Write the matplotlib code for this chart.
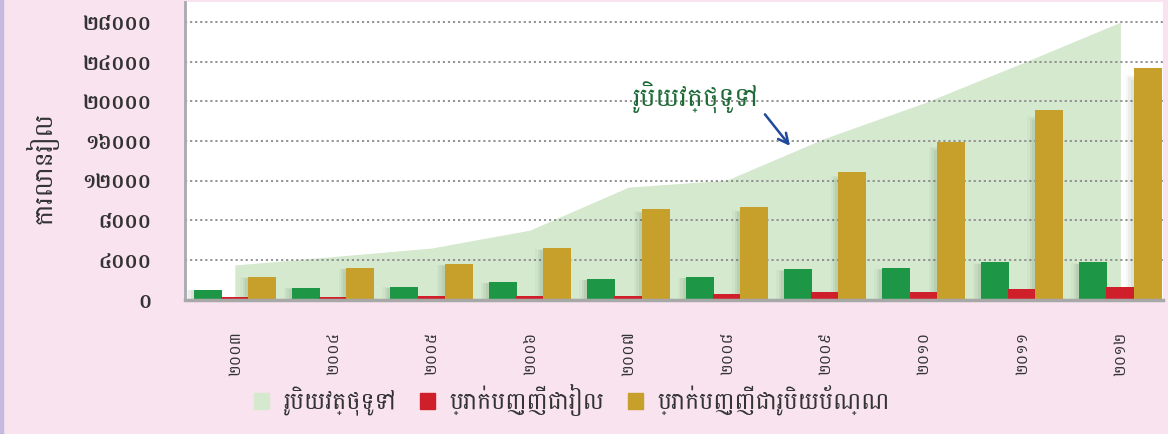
import matplotlib
matplotlib.use("Agg")
import matplotlib.pyplot as plt
import numpy as np
from matplotlib.patches import Patch, Rectangle

plt.rcParams['font.family'] = ['Battambang', 'DejaVu Sans']

years = ["២០០៣", "២០០៤", "២០០៥", "២០០៦", "២០០៧", "២០០៨", "២០០៩", "២០១០", "២០១១", "២០១២"]
money_supply = [3480, 4330, 5190, 7000, 11330, 12040, 16270, 19800, 23830, 27960]
green_bars = [960, 1160, 1260, 1760, 2070, 2270, 3070, 3170, 3780, 3780]
riel_deposits = [250, 300, 350, 350, 350, 550, 790, 750, 1060, 1220]
fx_deposits = [2300, 3200, 3600, 5210, 9170, 9320, 12840, 15900, 19090, 23325]
yticks = [0, 4000, 8000, 12000, 16000, 20000, 24000, 28000]
ytick_labels = ["០", "៤០០០", "៨០០០", "១២០០០", "១៦០០០", "២០០០០", "២៤០០០", "២៨០០០"]
ylabel = "ការលានរៀល"
legend_labels = ["រូបិយវត្ថុទូទៅ", "ប្រាក់បញ្ញើជារៀល", "ប្រាក់បញ្ញើជារូបិយប័ណ្ណ"]
annot = "រូបិយវត្ថុទូទៅ"

c_area = "#d5e9cf"
c_green = "#1d9645"
c_red = "#cf1f2a"
c_gold = "#c7a02b"
bg = "#f8e3ef"

fig = plt.figure(figsize=(11.68, 4.34), dpi=100, facecolor=bg)
fig.patches.append(Rectangle((0, 0), 3 / 1168, 1, transform=fig.transFigure,
                             color="#c4b9de", zorder=0))
ax = fig.add_axes([185 / 1168, 134.5 / 434, 978 / 1168, 297.5 / 434])
ax.set_facecolor("white")
x = np.arange(len(years))

ax.fill_between(x, 0, money_supply, color=c_area, lw=0, zorder=1)
for yy in yticks[1:]:
    ax.axhline(yy, color="#8a8a8a", lw=1.3, ls=(0, (1.2, 1.6)), zorder=2)

w = 0.285
off = 0.277
# soft shadows
for i in range(len(x)):
    for k, v in [(-off, green_bars[i]), (off, fx_deposits[i])]:
        for j, a in enumerate([0.04, 0.06, 0.08]):
            ax.add_patch(Rectangle((x[i] + k - w / 2 - 0.08 + j * 0.025, 0), w, v * (0.97 - 0.01 * j),
                                   color="#2f5a30", alpha=a, lw=0, zorder=2.5))
ax.bar(x - off, green_bars, width=w, color=c_green, zorder=3)
ax.bar(x, riel_deposits, width=w, color=c_red, zorder=3.2)
ax.bar(x + off, fx_deposits, width=w, color=c_gold, zorder=3.4)

ax.set_xlim(-0.506, 9.433)
ax.set_ylim(0, 30000)
ax.set_yticks(yticks)
ax.set_yticklabels(ytick_labels, fontsize=14.5, fontweight="bold", color="#333333")
ax.set_xticks(x)
ax.set_xticklabels(years, rotation=90, fontsize=11.5, color="#333333")
ax.tick_params(axis="y", length=0, pad=24)
ax.tick_params(axis="x", length=0, pad=23)
for s in ["top", "right"]:
    ax.spines[s].set_visible(False)
ax.spines["left"].set_color("#a9a9b0")
ax.spines["left"].set_linewidth(2)
ax.spines["bottom"].set_color("#a8a8a8")
ax.spines["bottom"].set_linewidth(2.5)
ax.spines["bottom"].set_zorder(5)

fig.text(42 / 1168, (434 - 168) / 434, ylabel, rotation=90, fontsize=18,
         ha="center", va="center", color="#333333")

ax.text(4.68, 20400, annot, fontsize=19, color="#1f6b38", ha="center", va="center", zorder=6)
ax.annotate("", xy=(5.66, 15270), xytext=(5.37, 18890),
            arrowprops=dict(arrowstyle="->", color="#1f4a9a", lw=1.8, mutation_scale=18), zorder=6)

handles = [Patch(color=c_area), Patch(color=c_red), Patch(color=c_gold)]
fig.legend(handles, legend_labels, loc="center", bbox_to_anchor=(572 / 1168, 34 / 434), ncol=3,
           frameon=False, fontsize=17, handlelength=0.65, handleheight=0.65, columnspacing=1.0,
           handletextpad=0.6, labelcolor="#333333")

fig.savefig("out.png", facecolor=bg)
